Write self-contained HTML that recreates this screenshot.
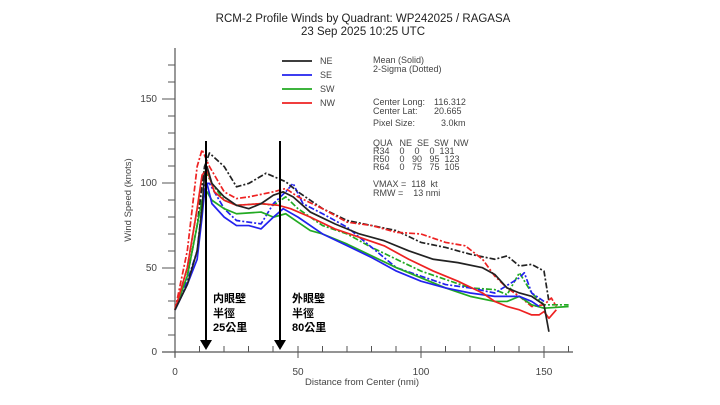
<!DOCTYPE html>
<html><head><meta charset="utf-8"><style>
body{margin:0;background:#fff;}
svg{display:block;font-family:"Liberation Sans","DejaVu Sans",sans-serif;}
</style></head><body>
<svg width="720" height="405" viewBox="0 0 720 405">
<text x="363" y="22" font-size="11.5" text-anchor="middle" fill="#222">RCM-2 Profile Winds by Quadrant: WP242025 / RAGASA</text>
<text x="363" y="35" font-size="11.5" text-anchor="middle" fill="#222">23 Sep 2025 10:25 UTC</text>
<g stroke="#555" stroke-width="1.2" fill="none">
<line x1="175" y1="48" x2="175" y2="357"/>
<line x1="162" y1="352" x2="573" y2="352"/>
</g>
<g stroke="#555" stroke-width="1">
<line x1="162" y1="352" x2="175" y2="352"/><line x1="162" y1="268" x2="175" y2="268"/><line x1="162" y1="183" x2="175" y2="183"/><line x1="162" y1="99" x2="175" y2="99"/>
<line x1="168" y1="335" x2="175" y2="335"/><line x1="168" y1="318" x2="175" y2="318"/><line x1="168" y1="301" x2="175" y2="301"/><line x1="168" y1="284" x2="175" y2="284"/>
<line x1="168" y1="251" x2="175" y2="251"/><line x1="168" y1="234" x2="175" y2="234"/><line x1="168" y1="217" x2="175" y2="217"/><line x1="168" y1="200" x2="175" y2="200"/>
<line x1="168" y1="166" x2="175" y2="166"/><line x1="168" y1="149" x2="175" y2="149"/><line x1="168" y1="133" x2="175" y2="133"/><line x1="168" y1="116" x2="175" y2="116"/>
<line x1="168" y1="82" x2="175" y2="82"/><line x1="168" y1="65" x2="175" y2="65"/>
<line x1="175" y1="352" x2="175" y2="358"/><line x1="199.5" y1="346" x2="199.5" y2="352"/><line x1="224" y1="346" x2="224" y2="352"/><line x1="248.5" y1="346" x2="248.5" y2="352"/><line x1="273" y1="346" x2="273" y2="352"/>
<line x1="298" y1="346" x2="298" y2="358"/><line x1="322.5" y1="346" x2="322.5" y2="352"/><line x1="347" y1="346" x2="347" y2="352"/><line x1="371.5" y1="346" x2="371.5" y2="352"/><line x1="396" y1="346" x2="396" y2="352"/>
<line x1="421" y1="346" x2="421" y2="358"/><line x1="445.5" y1="346" x2="445.5" y2="352"/><line x1="470" y1="346" x2="470" y2="352"/><line x1="494.5" y1="346" x2="494.5" y2="352"/><line x1="519" y1="346" x2="519" y2="352"/>
<line x1="544" y1="346" x2="544" y2="358"/><line x1="568.5" y1="346" x2="568.5" y2="352"/>
</g>
<g font-size="10" fill="#444">
<text x="157" y="355" text-anchor="end">0</text><text x="157" y="271" text-anchor="end">50</text><text x="157" y="186" text-anchor="end">100</text><text x="157" y="102" text-anchor="end">150</text>
<text x="175" y="375" text-anchor="middle">0</text><text x="298" y="375" text-anchor="middle">50</text><text x="421" y="375" text-anchor="middle">100</text><text x="544" y="375" text-anchor="middle">150</text>
<text x="362" y="385" text-anchor="middle" font-size="9.5">Distance from Center (nmi)</text>
<text transform="translate(131,200) rotate(-90)" text-anchor="middle" font-size="9.5">Wind Speed (knots)</text>
</g>
<g transform="translate(175,352) scale(2.46,-1.686)" fill="none" stroke-width="1.7" stroke-linejoin="round">
<polyline vector-effect="non-scaling-stroke" stroke="#2a2" stroke-dasharray="6,2,2,2" points="0,25 5,50 9,85 12,108 15,100 20,90 25,87 35,88 40,87 45,92 50,85 60,75 70,70 80,62 90,55 100,48 110,43 120,38 130,37 135,34 140,47 145,35 150,28 160,28"/>
<polyline vector-effect="non-scaling-stroke" stroke="#22e" stroke-dasharray="6,2,2,2" points="0,25 5,42 9,60 12,100 14,100 20,85 25,78 35,76 40,88 45,95 48,100 52,88 60,82 70,74 80,62 90,50 100,45 110,40 120,38 130,35 140,44 142,47 145,35 150,30"/>
<polyline vector-effect="non-scaling-stroke" stroke="#222" stroke-dasharray="6,2,2,2" points="0,25 5,45 9,75 12,110 14,118 20,110 25,98 30,100 37,106 45,101 50,95 60,85 70,78 80,75 90,72 100,65 110,62 120,58 130,55 135,57 140,51 145,52 150,48 152,30"/>
<polyline vector-effect="non-scaling-stroke" stroke="#e22" stroke-dasharray="6,2,2,2" points="0,25 5,60 9,110 11,120 14,110 20,95 25,91 30,92 40,95 45,97 50,92 60,85 70,77 80,75 90,71 100,70 110,65 118,63 125,55 130,45 135,38 140,33 145,27 150,28 153,32 155,27"/>
<polyline vector-effect="non-scaling-stroke" stroke="#2a2" points="0,25 5,45 9,75 11,90 13,95 15,90 20,85 25,82 35,83 40,80 45,82 50,77 55,72 60,70 70,64 80,57 90,50 100,44 110,38 120,33 130,30 135,30 140,33 145,28 150,26 160,27"/>
<polyline vector-effect="non-scaling-stroke" stroke="#22e" points="0,25 5,40 9,55 11,80 12,95 13,100 15,88 20,80 25,75 30,75 35,73 40,80 44,85 50,80 60,70 70,63 80,56 90,48 100,42 110,38 120,35 130,33 140,33 145,30 148,27"/>
<polyline vector-effect="non-scaling-stroke" stroke="#e22" points="0,25 5,50 9,85 11,105 13,108 16,95 20,90 25,87 35,88 42,87 47,85 55,80 65,73 75,68 85,63 95,55 105,48 115,42 125,35 130,30 135,27 140,25 145,22 148,22 150,24 152,20 155,25"/>
<polyline vector-effect="non-scaling-stroke" stroke="#222" points="0,25 5,40 9,60 11,85 12,105 13,110 15,100 20,92 25,87 30,85 35,88 40,93 44,95 48,92 55,83 65,76 75,70 85,66 95,60 105,55 115,53 125,50 130,46 135,38 140,35 145,33 150,28 152,12"/>
</g>
<g stroke-width="1.8">
<line x1="282" y1="61" x2="312" y2="61" stroke="#222"/>
<line x1="282" y1="75" x2="312" y2="75" stroke="#22e"/>
<line x1="282" y1="89" x2="312" y2="89" stroke="#2a2"/>
<line x1="282" y1="103" x2="312" y2="103" stroke="#e22"/>
</g>
<g font-size="9" fill="#444">
<text x="320" y="64">NE</text><text x="320" y="78">SE</text><text x="320" y="92">SW</text><text x="320" y="106">NW</text>
<text x="373" y="63">Mean (Solid)</text><text x="373" y="72">2-Sigma (Dotted)</text>
<text x="373" y="105">Center Long:</text><text x="434" y="105">116.312</text>
<text x="373" y="114">Center Lat:</text><text x="434" y="114">20.665</text>
<text x="373" y="126">Pixel Size:</text><text x="441" y="126">3.0km</text>
<text x="373" y="146" xml:space="preserve">QUA   NE  SE  SW  NW</text>
<text x="373" y="154" xml:space="preserve">R34    0    0    0  131</text>
<text x="373" y="162" xml:space="preserve">R50    0   90   95  123</text>
<text x="373" y="170" xml:space="preserve">R64    0   75   75  105</text>
<text x="373" y="187" xml:space="preserve">VMAX =  118  kt</text>
<text x="373" y="196" xml:space="preserve">RMW =    13 nmi</text>
</g>
<g stroke="#000" stroke-width="2">
<line x1="206" y1="141" x2="206" y2="343"/>
<line x1="280" y1="141" x2="280" y2="343"/>
</g>
<polygon points="200,340 212,340 206,350" fill="#000"/>
<polygon points="274,340 286,340 280,350" fill="#000"/>
<g font-size="11" font-weight="bold" fill="#000" font-family="'Liberation Sans','Noto Sans CJK TC',sans-serif">
<text x="213" y="302">内眼壁</text><text x="213" y="317">半徑</text><text x="213" y="331">25公里</text>
<text x="292" y="302">外眼壁</text><text x="292" y="317">半徑</text><text x="292" y="331">80公里</text>
</g>
</svg>
</body></html>
